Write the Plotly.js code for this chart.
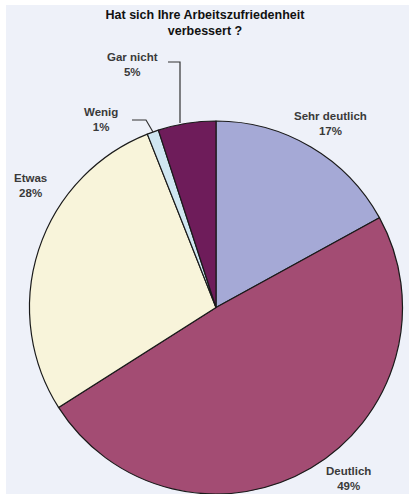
<!DOCTYPE html>
<html>
<head>
<meta charset="utf-8">
<script src="https://cdn.plot.ly/plotly-3.0.1.min.js"></script>
<style>
  html, body { margin: 0; padding: 0; background: #ffffff; }
  #chart { width: 409px; height: 494px; }
</style>
</head>
<body>
<div id="chart"></div>
<script>
// Data
const labels = ["Sehr deutlich", "Deutlich", "Etwas", "Wenig", "Gar nicht"];
const values = [17, 49, 28, 1, 5];
const colors = ["#a5a9d6", "#a34c73", "#f8f4da", "#cfe6f1", "#6e1c5a"];
const titleText = "Hat sich Ihre Arbeitszufriedenheit<br>verbessert ?";

// Label placement (layout only, paper pixels)
const labelPos = [
  {x: 330, y: 124},
  {x: 348, y: 478},
  {x: 30, y: 185},
  {x: 101, y: 119},
  {x: 132, y: 64}
];

const W = 409, H = 494;
const px = v => v / W;
const py = v => 1 - v / H;

const annotations = labels.map((l, i) => ({
  xref: 'paper', yref: 'paper',
  x: px(labelPos[i].x), y: py(labelPos[i].y),
  xanchor: 'center', yanchor: 'middle',
  text: l + '<br>' + values[i] + '%',
  showarrow: false,
  font: {family: 'Liberation Sans, Arial, sans-serif', size: 11.5, color: '#3a3a3a', weight: 'bold'}
}));

const pts = (arr) => 'M' + arr.map(p => px(p[0]) + ',' + py(p[1])).join(' L');

const shapes = [
  {type: 'rect', xref: 'paper', yref: 'paper', x0: 0, x1: px(6), y0: 0, y1: 1,
   fillcolor: '#ffffff', line: {width: 0}},
  {type: 'rect', xref: 'paper', yref: 'paper', x0: 0, x1: 1, y0: py(5), y1: 1,
   fillcolor: '#ffffff', line: {width: 0}},
  {type: 'path', xref: 'paper', yref: 'paper',
   path: pts([[168, 62], [180, 62], [180, 123]]), line: {color: '#333', width: 1.2}},
  {type: 'path', xref: 'paper', yref: 'paper',
   path: pts([[132, 120], [146, 120], [153, 132]]), line: {color: '#333', width: 1.2}}
];

const trace = {
  type: 'pie',
  labels: labels,
  values: values,
  sort: false,
  direction: 'clockwise',
  rotation: 0,
  marker: {colors: colors, line: {color: '#1a1a1a', width: 1.2}},
  textinfo: 'none',
  hoverinfo: 'label+percent',
  showlegend: false,
  domain: {x: [px(29.5), px(402.5)], y: [0, py(121)]}
};

const layout = {
  width: W, height: H,
  margin: {l: 0, r: 0, t: 0, b: 0},
  paper_bgcolor: '#eef1f9',
  title: {
    text: titleText,
    x: px(205), xanchor: 'center',
    y: py(19), yanchor: 'middle',
    font: {family: 'Liberation Sans, Arial, sans-serif', size: 12.5, color: '#111', weight: 'bold'}
  },
  annotations: annotations,
  shapes: shapes
};

Plotly.newPlot('chart', [trace], layout, {displayModeBar: false, staticPlot: true});
</script>
</body>
</html>
